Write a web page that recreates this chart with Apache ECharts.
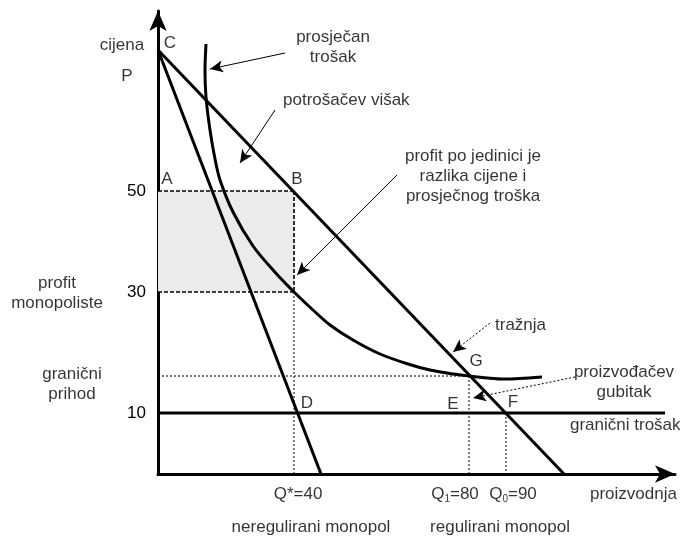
<!DOCTYPE html>
<html>
<head>
<meta charset="utf-8">
<script src="https://cdn.jsdelivr.net/npm/echarts@6/dist/echarts.min.js"></script>
<style>
  html, body { margin: 0; padding: 0; background: #fff; }
  #chart { width: 680px; height: 538px; }
</style>
</head>
<body>
<div id="chart"></div>
<script>
// schematic diagram units (not to scale): x = proizvodnja, y = cijena
var demand = [[0, 424], [406, 0]]
var marginalRevenue = [[0, 424], [163, 0]]
var marginalCost = [[0, 61], [507, 61]]
var averageCost = [[48, 430], [47, 404], [48, 377], [52, 344], [57, 315], [62, 294], [75, 262],
  [95, 228], [115, 204], [135, 183], [155, 164], [172, 149], [195, 134], [222, 120],
  [250, 110], [272, 104], [295, 100], [311, 98], [330, 96], [345, 95], [362, 95.5], [384, 97]]

var priceTicks = ['50', '30', '10']
var priceLevels = [283, 182, 61]

var profitBox = [[0, 283], [136, 182]]
var dashedGuides = [
  [[0, 283], [136, 283]],
  [[0, 182], [136, 182]],
  [[136, 283], [136, 182]]
]
var dottedGuides = [
  [[136, 182], [136, 0]],
  [[0, 98], [311, 98]],
  [[311, 98], [311, 0]],
  [[348, 61], [348, 0]]
]

// [from, to, dotted]
var arrows = [
  [[127, 421], [52, 405], false],
  [[117, 364], [82, 311], false],
  [[239, 299], [139, 199], false],
  [[-51, 191], [22, 241], false],
  [[-48, 97], [97, 149], true],
  [[332, 151], [295, 122], true],
  [[417, 97], [315, 76], true]
]

// [text, x, y, align]
var texts = [
  ['cijena', -36, 429, 'center'],
  ['C', 12, 431, 'center'],
  ['P', -31, 398, 'center'],
  ['prosječan\ntrošak', 175, 427, 'center'],
  ['potrošačev višak', 125, 374, 'left'],
  ['profit po jedinici je\nrazlika cijene i\nprosječnog troška', 315, 298, 'center'],
  ['A', 9, 295, 'center'],
  ['B', 139, 295, 'center'],
  ['profit\nmonopoliste', -101, 181, 'center'],
  ['granični\nprihod', -86, 90, 'center'],
  ['D', 149, 71, 'center'],
  ['E', 295, 70, 'center'],
  ['F', 355, 72, 'center'],
  ['G', 318, 113, 'center'],
  ['tražnja', 337, 149, 'left'],
  ['proizvođačev\ngubitak', 466, 92, 'center'],
  ['granični trošak', 412, 49, 'left'],
  ['Q*=40', 140, -20, 'center'],
  ['{t|Q}{s|1}{t|=80}', 297, -20, 'center'],
  ['{t|Q}{s|0}{t|=90}', 355, -20, 'center'],
  ['proizvodnja', 432, -20, 'left'],
  ['neregulirani monopol', 153, -53, 'center'],
  ['regulirani monopol', 342, -53, 'center']
]

var chart = echarts.init(document.getElementById('chart'))
var font = 'Liberation Sans, Arial, sans-serif'

function curve(name, data, smooth) {
  return {
    name: name,
    type: 'line',
    data: data,
    smooth: smooth || false,
    symbol: 'none',
    clip: false,
    z: 5,
    lineStyle: { color: '#000', width: 3 }
  }
}

function guide(seg, type, width) {
  return {
    type: 'line',
    data: seg,
    symbol: 'none',
    clip: false,
    z: 3,
    lineStyle: { color: '#000', width: width, type: type }
  }
}

var series = [
  {
    type: 'line',
    data: [],
    clip: false,
    z: 1,
    markArea: {
      silent: true,
      itemStyle: { color: '#ebebeb' },
      data: [[{ coord: profitBox[0] }, { coord: profitBox[1] }]]
    }
  },
  curve('tražnja', demand),
  curve('granični prihod', marginalRevenue),
  curve('granični trošak', marginalCost),
  curve('prosječan trošak', averageCost, 0.3)
]
dashedGuides.forEach(function(s) { series.push(guide(s, [4, 2], 1.6)) })
dottedGuides.forEach(function(s) { series.push(guide(s, [2, 2], 1)) })

series.push({
  type: 'line',
  data: [],
  clip: false,
  z: 6,
  markLine: {
    silent: true,
    animation: false,
    symbol: ['none', 'arrow'],
    symbolSize: [9, 13],
    label: { show: false },
    data: arrows.map(function(a) {
      return [
        { coord: a[0], lineStyle: { color: '#000', width: 1, type: a[2] ? [2, 2] : 'solid' } },
        { coord: a[1] }
      ]
    })
  }
})

series.push({
  type: 'scatter',
  symbolSize: 0,
  clip: false,
  silent: true,
  z: 7,
  data: texts.map(function(t) {
    return {
      name: t[0],
      value: [t[1], t[2]],
      label: { align: t[3] }
    }
  }),
  label: {
    show: true,
    position: 'inside',
    formatter: '{b}',
    color: '#000',
    fontFamily: font,
    fontSize: 17,
    lineHeight: 20,
    rich: {
      t: { fontSize: 17, fontFamily: font, color: '#000', lineHeight: 20 },
      s: { fontSize: 10, fontFamily: font, color: '#000', lineHeight: 10, verticalAlign: 'bottom' }
    }
  }
})

chart.setOption({
  animation: false,
  backgroundColor: '#fff',
  grid: { left: 158, right: 5, top: 11, bottom: 64 },
  xAxis: {
    type: 'value',
    min: 0,
    max: 517,
    splitLine: { show: false },
    axisTick: { show: false },
    axisLabel: { show: false },
    axisLine: {
      show: true,
      symbol: ['none', 'arrow'],
      symbolSize: [13, 20],
      lineStyle: { color: '#000', width: 3 }
    }
  },
  yAxis: {
    type: 'value',
    min: 0,
    max: 463,
    splitLine: { show: false },
    axisTick: { show: false },
    axisLabel: {
      show: true,
      customValues: priceLevels,
      margin: 12,
      color: '#000',
      fontFamily: font,
      fontSize: 17,
      formatter: function(v) {
        return priceTicks[priceLevels.indexOf(v)]
      }
    },
    axisLine: {
      show: true,
      symbol: ['none', 'arrow'],
      symbolSize: [13, 20],
      lineStyle: { color: '#000', width: 3 }
    }
  },
  series: series
})
</script>
</body>
</html>
